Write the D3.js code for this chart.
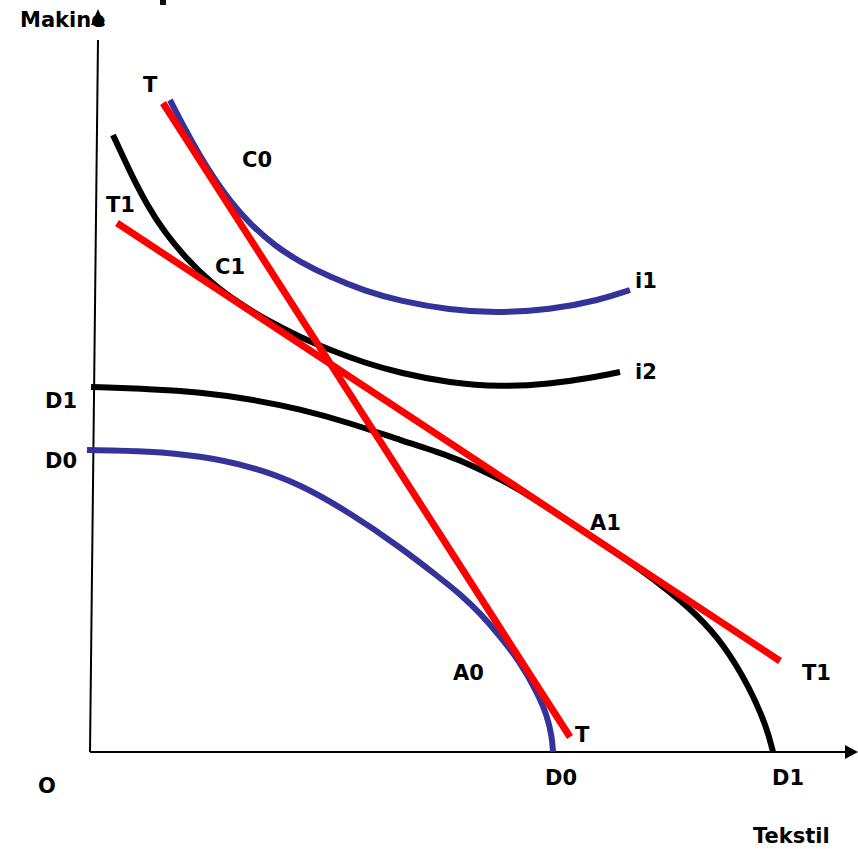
<!DOCTYPE html>
<html>
<head>
<meta charset="utf-8">
<script src="https://cdn.jsdelivr.net/npm/d3@7"></script>
<style>
  body { margin: 0; background: #fff; }
  text { font-family: "DejaVu Sans", Verdana, sans-serif; font-weight: bold; font-size: 21px; fill: #000; }
</style>
</head>
<body>
<div id="chart"></div>
<script>
// curves, in chart units (x = Tekstil, y = Makine)
const d1Curve = [[1,365],[60,363],[110,360],[160,353],[210,343],[260,329],[310,312],[360,296],[385,285],[410,273],[435,259],[460,243],[510,210],[550,183],[580,160],[605,139],[633,109],[660,64],[677,24],[683,0]];
const d0Curve = [[-3,302],[60,301],[110,296],[160,286],[210,268],[260,239],[310,205],[350,174],[370,158],[390,139],[410,116],[430,90],[447,60],[457,37],[462,15],[463,0]];
const i2Curve = [[23,617],[40,580],[57,547],[75,519],[95,495],[120,470],[150,448],[180,430],[210,415],[240,402],[275,389],[310,379],[360,369],[410,365],[460,368],[500,374],[530,380]];
const i1Curve = [[80,652],[95,623],[110,596],[125,572],[140,551],[160,528],[185,506],[210,490],[240,475],[275,461],[310,451],[360,442],[405,439],[460,442],[510,452],[540,462]];
const tLine = [[73,649],[480,15]];
const t1Line = [[27,529],[690,91]];

const labels = [
  { text: "Makine", x: -70, y: 725 },
  { text: "T", x: 53, y: 660 },
  { text: "C0", x: 152, y: 585 },
  { text: "T1", x: 16, y: 540 },
  { text: "C1", x: 125, y: 478 },
  { text: "i1", x: 545, y: 464 },
  { text: "i2", x: 545, y: 373 },
  { text: "D1", x: -45, y: 344 },
  { text: "D0", x: -45, y: 284 },
  { text: "A1", x: 500, y: 222 },
  { text: "A0", x: 363, y: 72 },
  { text: "T1", x: 712, y: 72 },
  { text: "T", x: 485, y: 10 },
  { text: "D0", x: 455, y: -33 },
  { text: "D1", x: 682, y: -33 },
  { text: "O", x: -52, y: -41 },
  { text: "Tekstil", x: 663, y: -91 }
];

const width = 858, height = 849;
const x = d3.scaleLinear().domain([0, 768]).range([90, 858]);
const y = d3.scaleLinear().domain([0, 735]).range([752, 17]);

const svg = d3.select("#chart").append("svg")
  .attr("width", width)
  .attr("height", height);

// bit of a cut-off glyph at the top edge
svg.append("rect").attr("x", 160).attr("y", 0).attr("width", 6).attr("height", 5).attr("fill", "#111");

const line = d3.line().x(d => x(d[0])).y(d => y(d[1])).curve(d3.curveBasis);
const straight = d3.line().x(d => x(d[0])).y(d => y(d[1]));

// axes
svg.append("line")
  .attr("x1", x(0)).attr("y1", y(0)).attr("x2", x(8)).attr("y2", y(712))
  .attr("stroke", "#000").attr("stroke-width", 2);
svg.append("line")
  .attr("x1", x(0)).attr("y1", y(0)).attr("x2", x(757)).attr("y2", y(0))
  .attr("stroke", "#000").attr("stroke-width", 2);
svg.append("path")
  .attr("d", `M${x(768)},${y(0)} L${x(755)},${y(7)} L${x(755)},${y(-7)} Z`)
  .attr("fill", "#000");

// curves
svg.append("path").attr("d", line(d0Curve))
  .attr("fill", "none").attr("stroke", "#333399").attr("stroke-width", 6);
svg.append("path").attr("d", line(d1Curve))
  .attr("fill", "none").attr("stroke", "#000").attr("stroke-width", 6);
svg.append("path").attr("d", line(i1Curve))
  .attr("fill", "none").attr("stroke", "#333399").attr("stroke-width", 6);
svg.append("path").attr("d", line(i2Curve))
  .attr("fill", "none").attr("stroke", "#000").attr("stroke-width", 6);

// price lines
svg.append("path").attr("d", straight(tLine))
  .attr("fill", "none").attr("stroke", "#ff0000").attr("stroke-width", 7);
svg.append("path").attr("d", straight(t1Line))
  .attr("fill", "none").attr("stroke", "#ff0000").attr("stroke-width", 7);

svg.selectAll("text.lbl")
  .data(labels)
  .enter().append("text")
  .attr("class", "lbl")
  .attr("x", d => x(d.x))
  .attr("y", d => y(d.y))
  .text(d => d.text);

// arrow tip drawn over the "e" of Makine like in the original
svg.append("path")
  .attr("d", `M${x(8)},${y(743)} L${x(1)},${y(727)} L${x(15)},${y(727)} Z`)
  .attr("fill", "#000");
</script>
</body>
</html>
